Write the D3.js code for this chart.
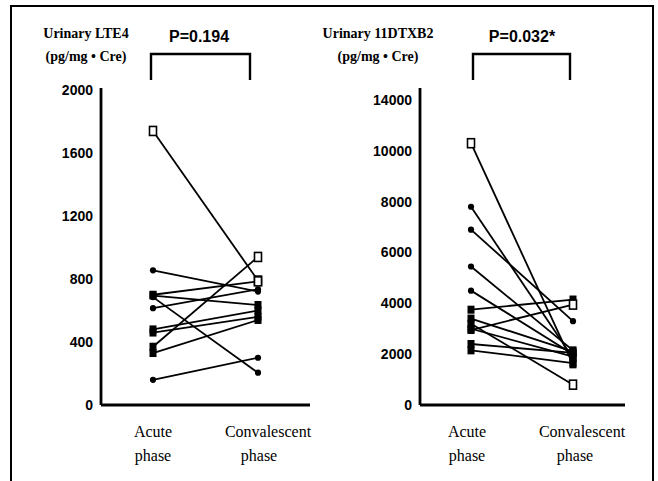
<!DOCTYPE html>
<html>
<head>
<meta charset="utf-8">
<script src="https://cdn.jsdelivr.net/npm/d3@7"></script>
<style>
  html, body { margin: 0; padding: 0; background: #fff; }
  svg { display: block; }
  .tick text { font-family: "Liberation Sans", Arial, sans-serif; font-weight: bold; font-size: 14px; fill: #000; }
  .ttl { font-family: "Liberation Serif", "Times New Roman", serif; font-weight: bold; font-size: 14px; }
  .pval { font-family: "Liberation Sans", Arial, sans-serif; font-weight: bold; font-size: 16px; }
  .xlab { font-family: "Liberation Serif", "Times New Roman", serif; font-size: 16px; }
</style>
</head>
<body>
<svg id="chart"></svg>
<script>
// ---------- Data ----------
const phases = ["Acute", "Convalescent"];
const phaseLines = [["Acute", "phase"], ["Convalescent", "phase"]];

// Urinary LTE4 (pg/mg・Cre), one entry per patient
const lteAcute = [1740, 855, 700, 695, 685, 615, 480, 460, 370, 330, 160];
const lteConv  = [790, 720, 785, 635, 205, 735, 600, 560, 940, 540, 300];
const lteShape = ["open", "dot", "sq", "sq", "dot", "dot", "sq", "sq", "sq", "sq", "dot"];
const lteConvShape = ["open", "dot", "open", "sq", "dot", "dot", "sq", "sq", "open", "sq", "dot"];
const lteTicks = [0, 400, 800, 1200, 1600, 2000];
const lteTickLabels = ["0", "400", "800", "1200", "1600", "2000"];

// Urinary 11DTXB2 (pg/mg・Cre)
const txAcute = [10300, 7800, 6900, 5450, 4500, 3750, 3400, 3200, 2950, 3000, 2400, 2150];
const txConv  = [1600, 1850, 3300, 2150, 2000, 4150, 2100, 800, 3950, 1900, 2050, 1650];
const txShape = ["open", "dot", "dot", "dot", "dot", "sq", "sq", "sq", "sq", "sq", "sq", "sq"];
const txConvShape = ["sq", "sq", "dot", "sq", "sq", "sq", "sq", "open", "open", "sq", "sq", "sq"];
const txTicks = [0, 2000, 4000, 6000, 8000, 10000, 12000];
const txTickLabels = ["0", "2000", "4000", "6000", "8000", "10000", "14000"];

// ---------- Layout ----------
const W = 658, H = 481;
const svg = d3.select("#chart").attr("width", W).attr("height", H);

// scanned frame
svg.append("path").attr("fill", "none").attr("stroke", "#000").attr("stroke-width", 2)
  .attr("d", `M11,481 V6 H653 V481`);

const panels = [
  { title: "Urinary LTE4", p: "P=0.194", acute: lteAcute, conv: lteConv, sa: lteShape, sc: lteConvShape,
    ticks: lteTicks, labels: lteTickLabels, max: 2000,
    axisX: 101, axisEnd: 310, top: 88, yMax: 90, px: [153, 258], titleX: 86, pX: 199, br: [151, 250],
    labX: [153, 268, 259] },
  { title: "Urinary 11DTXB2", p: "P=0.032*", acute: txAcute, conv: txConv, sa: txShape, sc: txConvShape,
    ticks: txTicks, labels: txTickLabels, max: 12000,
    axisX: 420, axisEnd: 625, top: 88, yMax: 100, px: [471, 573], titleX: 378, pX: 522, br: [473, 570],
    labX: [467, 582, 575] }
];
const baseY = 405;

function marker(g, x, y, kind) {
  if (kind === "open") {
    g.append("rect").attr("x", x - 3.5).attr("y", y - 4.5).attr("width", 7).attr("height", 9)
      .attr("fill", "#fff").attr("stroke", "#000").attr("stroke-width", 1.6);
  } else if (kind === "sq") {
    g.append("rect").attr("x", x - 3.5).attr("y", y - 4).attr("width", 7).attr("height", 8).attr("fill", "#000");
  } else {
    g.append("path").attr("transform", `translate(${x},${y})`)
      .attr("d", d3.symbol().type(d3.symbolCircle).size(30)).attr("fill", "#000");
  }
}

panels.forEach(P => {
  const g = svg.append("g");
  const y = d3.scaleLinear().domain([0, P.max]).range([baseY, P.yMax]);
  const x = d3.scalePoint().domain(phases).range(P.px);

  // y axis
  const ax = g.append("g").attr("transform", `translate(${P.axisX},0)`)
    .call(d3.axisLeft(y).tickValues(P.ticks).tickSize(0).tickPadding(8)
      .tickFormat((d, i) => P.labels[i]));
  ax.select(".domain").remove();
  g.append("line").attr("x1", P.axisX).attr("x2", P.axisX).attr("y1", P.top).attr("y2", baseY)
    .attr("stroke", "#000").attr("stroke-width", 2.8);
  // x axis
  g.append("line").attr("x1", P.axisX).attr("x2", P.axisEnd).attr("y1", baseY).attr("y2", baseY)
    .attr("stroke", "#000").attr("stroke-width", 2.8);

  // paired lines
  P.acute.forEach((a, i) => {
    g.append("line").attr("x1", x("Acute")).attr("y1", y(a))
      .attr("x2", x("Convalescent")).attr("y2", y(P.conv[i]))
      .attr("stroke", "#000").attr("stroke-width", 1.8);
  });
  P.acute.forEach((a, i) => {
    marker(g, x("Acute"), y(a), P.sa[i]);
    marker(g, x("Convalescent"), y(P.conv[i]), P.sc[i]);
  });

  // titles
  g.append("text").attr("class", "ttl").attr("x", P.titleX).attr("y", 38).attr("text-anchor", "middle").text(P.title);
  g.append("text").attr("class", "ttl").attr("x", P.titleX).attr("y", 61).attr("text-anchor", "middle").text("(pg/mg • Cre)");
  g.append("text").attr("class", "pval").attr("x", P.pX).attr("y", 42).attr("text-anchor", "middle").text(P.p);

  // bracket
  g.append("path").attr("fill", "none").attr("stroke", "#000").attr("stroke-width", 2.4)
    .attr("d", `M${P.br[0]},80 V54 H${P.br[1]} V80`);

  // phase labels
  g.append("text").attr("class", "xlab").attr("x", P.labX[0]).attr("y", 437).attr("text-anchor", "middle").text(phaseLines[0][0]);
  g.append("text").attr("class", "xlab").attr("x", P.labX[0]).attr("y", 461).attr("text-anchor", "middle").text(phaseLines[0][1]);
  g.append("text").attr("class", "xlab").attr("x", P.labX[1]).attr("y", 437).attr("text-anchor", "middle").text(phaseLines[1][0]);
  g.append("text").attr("class", "xlab").attr("x", P.labX[2]).attr("y", 461).attr("text-anchor", "middle").text(phaseLines[1][1]);
});
</script>
</body>
</html>
